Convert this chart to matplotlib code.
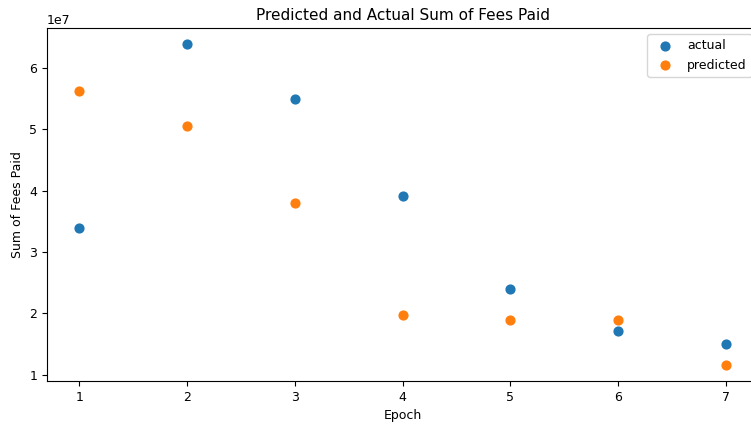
import matplotlib
matplotlib.use("Agg")
import matplotlib.pyplot as plt

# Sum of fees per epoch: observed vs. model prediction
epochs = [1, 2, 3, 4, 5, 6, 7]
actual_fees = [33.9e6, 63.9e6, 54.9e6, 39.1e6, 24.0e6, 17.1e6, 15.0e6]
predicted_fees = [56.3e6, 50.6e6, 38.0e6, 19.8e6, 19.0e6, 19.0e6, 11.6e6]

plt.rcParams["font.size"] = 9

fig = plt.figure(figsize=(7.51, 4.24), dpi=100)
ax = fig.add_axes([0.0626, 0.1014, 0.947, 0.8325])

ax.scatter(epochs, actual_fees, label="actual", s=40)
ax.scatter(epochs, predicted_fees, label="predicted", s=40)

ax.set_title("Predicted and Actual Sum of Fees Paid", fontsize=11)
ax.set_xlabel("Epoch")
ax.set_ylabel("Sum of Fees Paid")
ax.legend(loc="upper right")

fig.savefig("out.png", dpi=100)
